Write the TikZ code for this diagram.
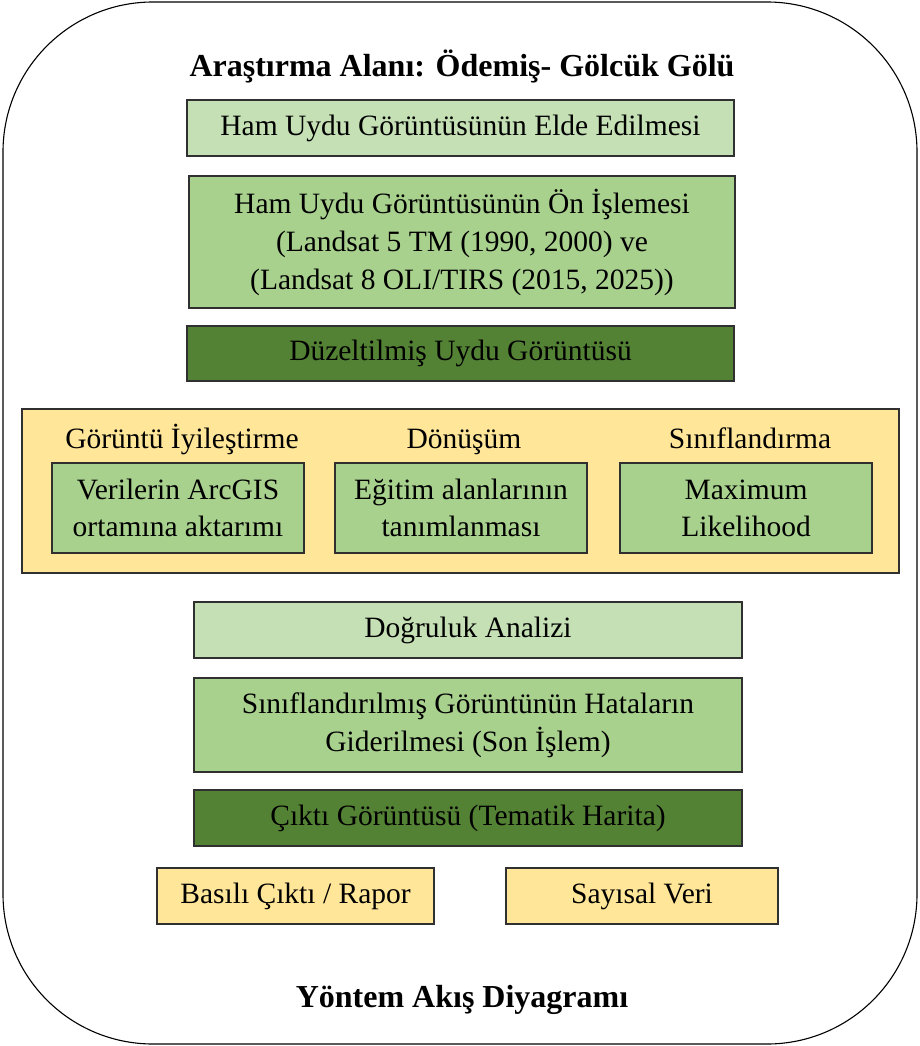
\documentclass[tikz,border=0pt]{standalone}
\usepackage{fontspec}
\setmainfont{Liberation Serif}
\definecolor{lgreen}{HTML}{C5E0B4}
\definecolor{mgreen}{HTML}{A9D18E}
\definecolor{dgreen}{HTML}{548235}
\definecolor{lyellow}{HTML}{FFE699}
\definecolor{edge}{HTML}{303030}
\tikzset{
  box/.style={draw=edge, line width=1.3pt, inner sep=0pt, align=center,
    font=\fontsize{29.5}{38}\selectfont},
  lbl/.style={inner sep=0pt, anchor=base, font=\fontsize{29.5}{38}\selectfont},
  ttl/.style={inner sep=0pt, anchor=base, font=\fontsize{32}{38}\selectfont\bfseries},
}
\begin{document}
\begin{tikzpicture}[x=1pt,y=-1pt]
\useasboundingbox (0,0) rectangle (920,1046);
\draw[line width=1.1pt, rounded corners=150pt] (3,2) rectangle (917,1044);
\node[ttl] (title) at (462,77) {Araştırma Alanı: Ödemiş- Gölcük Gölü};
\node[box, fill=lgreen, minimum width=547pt, minimum height=56pt] (b1) at (460.5,128) {Ham Uydu Görüntüsünün Elde Edilmesi};
\node[box, fill=mgreen, minimum width=546pt, minimum height=132pt] (b2) at (462,242) {Ham Uydu Görüntüsünün Ön İşlemesi\\(Landsat 5 TM (1990, 2000) ve\\(Landsat 8 OLI/TIRS (2015, 2025))};
\node[box, fill=dgreen, minimum width=547pt, minimum height=55pt] (b3) at (460.5,353.5) {Düzeltilmiş Uydu Görüntüsü};
\node[box, fill=lyellow, minimum width=877pt, minimum height=164pt] (grp) at (460.5,491) {};
\node[lbl] (l1) at (182,448) {Görüntü İyileştirme};
\node[lbl] (l2) at (464,448) {Dönüşüm};
\node[lbl] (l3) at (750,448) {Sınıflandırma};
\node[box, fill=mgreen, minimum width=252pt, minimum height=90pt, font=\fontsize{29.5}{37}\selectfont] (i1) at (178,508) {Verilerin ArcGIS\\ortamına aktarımı};
\node[box, fill=mgreen, minimum width=252pt, minimum height=90pt, font=\fontsize{29.5}{37}\selectfont] (i2) at (461,508) {Eğitim alanlarının\\tanımlanması};
\node[box, fill=mgreen, minimum width=252pt, minimum height=90pt, font=\fontsize{29.5}{37}\selectfont] (i3) at (746,508) {Maximum\\Likelihood};
\node[box, fill=lgreen, minimum width=548pt, minimum height=56pt] (b4) at (468,630) {Doğruluk Analizi};
\node[box, fill=mgreen, minimum width=548pt, minimum height=94pt] (b5) at (468,725) {Sınıflandırılmış Görüntünün Hataların\\Giderilmesi (Son İşlem)};
\node[box, fill=dgreen, minimum width=548pt, minimum height=56pt] (b6) at (468,818) {Çıktı Görüntüsü (Tematik Harita)};
\node[box, fill=lyellow, minimum width=277pt, minimum height=56pt] (o1) at (295.5,896) {Basılı Çıktı / Rapor};
\node[box, fill=lyellow, minimum width=272pt, minimum height=56pt] (o2) at (642,896) {Sayısal Veri};
\node[ttl] (foot) at (462,1007) {Yöntem Akış Diyagramı};
\end{tikzpicture}
\end{document}
